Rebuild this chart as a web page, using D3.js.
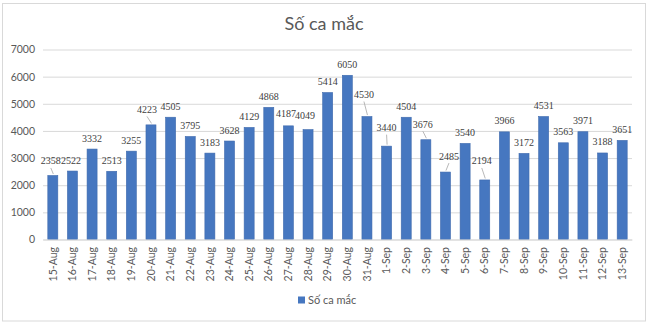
<!DOCTYPE html>
<html>
<head>
<meta charset="utf-8">
<script src="https://cdn.jsdelivr.net/npm/d3@7/dist/d3.min.js"></script>
<style>
  html, body { margin: 0; padding: 0; background: #fff; }
  svg { display: block; }
</style>
</head>
<body>
<script>
// Daily case counts
const dates = ["15-Aug","16-Aug","17-Aug","18-Aug","19-Aug","20-Aug","21-Aug","22-Aug","23-Aug","24-Aug",
  "25-Aug","26-Aug","27-Aug","28-Aug","29-Aug","30-Aug","31-Aug","1-Sep","2-Sep","3-Sep",
  "4-Sep","5-Sep","6-Sep","7-Sep","8-Sep","9-Sep","10-Sep","11-Sep","12-Sep","13-Sep"];
const cases = [2358,2522,3332,2513,3255,4223,4505,3795,3183,3628,
  4129,4868,4187,4049,5414,6050,4530,3440,4504,3676,
  2485,3540,2194,3966,3172,4531,3563,3971,3188,3651];
const yTicks = [0,1000,2000,3000,4000,5000,6000,7000];
const seriesName = "Số ca mắc";
const chartTitle = "Số ca mắc";

// Labels that were pushed aside to avoid collisions (offsets in px, with a leader line)
const labelNudge = {
  0:  {dx: -2,  dy: -3.5, leader: true},
  1:  {dx: -1.5, dy: 0},
  5:  {dx: -4,  dy: -4.5, leader: true},
  12: {dx: -2.5, dy: -1.5},
  13: {dx: -3,  dy: -3},
  16: {dx: -3,  dy: -11, leader: true},
  17: {dx: 0,   dy: -7.5, leader: true},
  19: {dx: -3,  dy: -4.5, leader: true},
  20: {dx: 3.5, dy: -5, leader: true},
  22: {dx: -3,  dy: -8, leader: true}
};

const W = 660, H = 322;
const plot = {left: 43, right: 632, top: 49.5, bottom: 239.5};
const textCol = "#595959";
const barCol = "#4677c0";
const sans = "Lato, 'Liberation Sans', sans-serif";
const serif = "Liberation Serif, DejaVu Serif, serif";

const svg = d3.select("body").append("svg").attr("width", W).attr("height", H);

// chart frame
svg.append("rect").attr("x", 2.5).attr("y", 3.5).attr("width", 643).attr("height", 317.5)
  .attr("fill", "#fff").attr("stroke", "#d9d9d9").attr("stroke-width", 1);

const x = d3.scaleBand().domain(dates).range([plot.left, plot.right]).paddingInner(0.49).paddingOuter(0.245);
const y = d3.scaleLinear().domain([0, 7000]).range([plot.bottom, plot.top]);

// title
svg.append("text").attr("x", 324).attr("y", 30).attr("text-anchor", "middle")
  .attr("font-family", sans).attr("font-size", 18)
  .attr("fill", textCol).text(chartTitle);

// gridlines + y axis labels
const yAxis = d3.axisLeft(y).tickValues(yTicks).tickFormat(d3.format("d"))
  .tickSize(-(plot.right - plot.left)).tickPadding(8);
const gy = svg.append("g").attr("transform", `translate(${plot.left},0)`).call(yAxis);
gy.select(".domain").remove();
gy.selectAll(".tick line").attr("stroke", "#d9d9d9").attr("stroke-width", 1);
gy.selectAll(".tick text").attr("font-family", sans)
  .attr("font-size", 10.5).attr("fill", textCol);

// bars
svg.append("g").selectAll("rect").data(cases).join("rect")
  .attr("x", (d, i) => x(dates[i]))
  .attr("y", d => y(d))
  .attr("width", x.bandwidth())
  .attr("height", d => y(0) - y(d))
  .attr("fill", barCol)
  .attr("stroke", "#3f6aad").attr("stroke-width", 0.6);

// x axis line + rotated labels
const xAxis = d3.axisBottom(x).tickSize(0).tickPadding(0);
const gx = svg.append("g").attr("transform", `translate(0,${plot.bottom})`).call(xAxis);
gx.select(".domain").attr("stroke", "#d9d9d9");
gx.selectAll(".tick text")
  .attr("font-family", sans).attr("font-size", 10.5)
  .attr("fill", textCol)
  .attr("text-anchor", "end")
  .attr("dy", "0.35em")
  .attr("transform", "translate(0,7.5) rotate(-90)")
  .attr("x", 0).attr("y", 0);

// data labels
const lab = svg.append("g");
cases.forEach((v, i) => {
  const cx = x(dates[i]) + x.bandwidth() / 2;
  const top = y(v);
  const n = labelNudge[i] || {dx: 0, dy: 0};
  const lx = cx + n.dx, ly = top - 7.5 + n.dy;
  if (n.leader) {
    lab.append("line").attr("x1", lx).attr("y1", ly + 3.5)
      .attr("x2", cx + 0.5).attr("y2", top - 1.5)
      .attr("stroke", "#a6a6a6").attr("stroke-width", 0.8);
  }
  lab.append("text").attr("x", lx).attr("y", ly).attr("text-anchor", "middle")
    .attr("font-family", serif).attr("font-size", 10)
    .attr("fill", "#404040").text(v);
});

// legend
const lg = svg.append("g");
lg.append("rect").attr("x", 298).attr("y", 296.5).attr("width", 7).attr("height", 7).attr("fill", barCol);
lg.append("text").attr("x", 308).attr("y", 304).attr("font-family", sans)
  .attr("font-size", 11).attr("fill", textCol).text(seriesName);
</script>
</body>
</html>
